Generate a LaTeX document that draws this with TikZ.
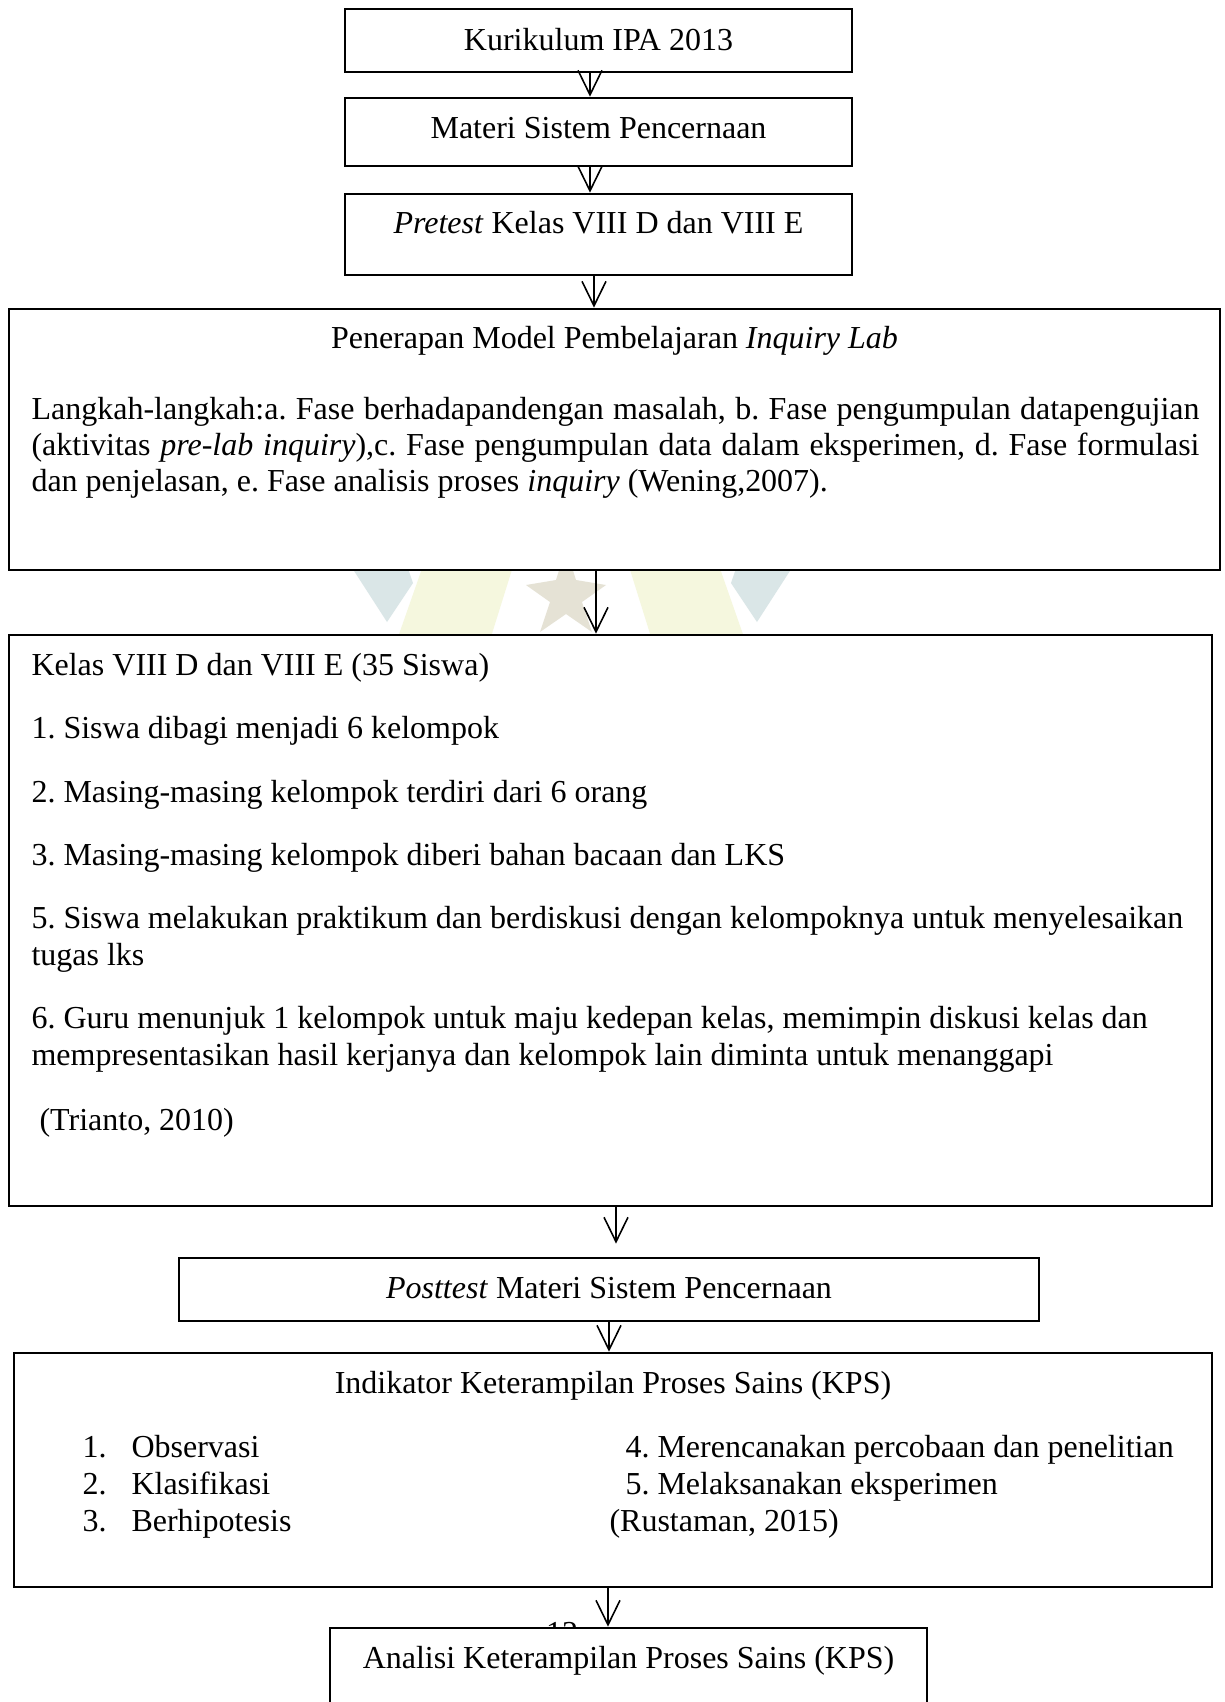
\documentclass[tikz,border=0pt]{standalone}
\usepackage{fontspec}
\setmainfont{Liberation Serif}
\usetikzlibrary{arrows.meta}
\frenchspacing
\def\U{0.375pt}
\tikzset{
  box/.style={draw=black, line width=1pt, fill=white, inner sep=0pt},
  txt/.style={inner sep=0pt, font=\fontsize{12pt}{13.875pt}\selectfont},
  arr/.style={line width=0.6pt, -{Straight Barb[length=9.2pt,width=9pt,line width=0.6pt]}},
  wm/.style={draw=none}
}
\begin{document}
\begin{tikzpicture}[x=0.375pt, y=-0.375pt]
\clip (0,0) rectangle (1225,1702);
\fill[white] (0,0) rectangle (1225,1702);

% faint watermark (only visible between boxes)
\fill[wm, fill={rgb,255:red,218;green,230;blue,231}] (347,560) -- (405,560) -- (413,583) -- (387,622) -- cycle;
\fill[wm, fill={rgb,255:red,245;green,247;blue,222}] (425,560) -- (515,560) -- (490,640) -- (397,640) -- cycle;
\fill[wm, fill={rgb,255:red,229;green,226;blue,213}]
  (566,548) -- (576,580) -- (606,585) -- (582,602) -- (592,632) -- (566,614) -- (540,632) -- (550,602) -- (526,585) -- (556,580) -- cycle;
\fill[wm, fill={rgb,255:red,245;green,247;blue,222}] (627,560) -- (717,560) -- (745,640) -- (652,640) -- cycle;
\fill[wm, fill={rgb,255:red,218;green,230;blue,231}] (739,560) -- (797,560) -- (757,622) -- (731,583) -- cycle;

% boxes
\node[box, minimum width=507*\U, minimum height=63*\U] (b1) at (598.5,40.5) {};
\node[box, minimum width=507*\U, minimum height=68*\U] (b2) at (598.5,132) {};
\node[box, minimum width=507*\U, minimum height=81*\U] (b3) at (598.5,234.5) {};
\node[box, minimum width=1211*\U, minimum height=261*\U] (inq) at (614.5,439.5) {};
\node[box, minimum width=1203*\U, minimum height=571*\U] (kelas) at (610.5,920.5) {};
\node[box, minimum width=860*\U, minimum height=63*\U] (post) at (609,1289.5) {};
\node[box, minimum width=1198*\U, minimum height=234*\U] (kps) at (613,1470) {};
\node[txt, anchor=base] (pg) at (562,1643) {12};
\node[box, minimum width=597*\U, minimum height=132*\U] (ana) at (628.5,1694) {};

% texts
\node[txt, anchor=base] (t1) at (598.5,50) {Kurikulum IPA 2013};
\node[txt, anchor=base] (t2) at (598.5,138) {Materi Sistem Pencernaan};
\node[txt, anchor=base] (t3) at (598.5,233) {\textit{Pretest} Kelas VIII D dan VIII E};

\node[txt, anchor=base] (inqt) at (614.5,348) {Penerapan Model Pembelajaran \textit{Inquiry Lab}};
\node[txt, anchor=base west] (inq1) at (31,419)
 {\makebox[438pt][s]{Langkah-langkah:a. Fase berhadapandengan masalah, b. Fase pengumpulan datapengujian}};
\node[txt, anchor=base west] (inq2) at (31,455)
 {\makebox[438pt][s]{(aktivitas \textit{pre-lab inquiry}),c. Fase pengumpulan data dalam eksperimen, d. Fase formulasi}};
\node[txt, anchor=base west] (inq3) at (31,491)
 {dan penjelasan, e. Fase analisis proses \textit{inquiry} (Wening,2007).};

\node[txt, anchor=base west] (k0) at (31,675) {Kelas VIII D dan VIII E (35 Siswa)};
\node[txt, anchor=base west] (k1) at (31,738) {1. Siswa dibagi menjadi 6 kelompok};
\node[txt, anchor=base west] (k2) at (31,802) {2. Masing-masing kelompok terdiri dari 6 orang};
\node[txt, anchor=base west] (k3) at (31,865) {3. Masing-masing kelompok diberi bahan bacaan dan LKS};
\node[txt, anchor=base west] (k5a) at (31,928) {5. Siswa melakukan praktikum dan berdiskusi dengan kelompoknya untuk menyelesaikan};
\node[txt, anchor=base west] (k5b) at (31,965) {tugas lks};
\node[txt, anchor=base west] (k6a) at (31,1028) {6. Guru menunjuk 1 kelompok untuk maju kedepan kelas, memimpin diskusi kelas dan};
\node[txt, anchor=base west] (k6b) at (31,1065) {mempresentasikan hasil kerjanya dan kelompok lain diminta untuk menanggapi};
\node[txt, anchor=base west] (k7) at (39,1130) {(Trianto, 2010)};

\node[txt, anchor=base] (postt) at (609,1298) {\textit{Posttest} Materi Sistem Pencernaan};

\node[txt, anchor=base] (kpst) at (613,1393) {Indikator Keterampilan Proses Sains (KPS)};
\node[txt, anchor=base west] (n1) at (82,1457) {1.};
\node[txt, anchor=base west] (i1) at (131,1457) {Observasi};
\node[txt, anchor=base west] (n2) at (82,1494) {2.};
\node[txt, anchor=base west] (i2) at (131,1494) {Klasifikasi};
\node[txt, anchor=base west] (n3) at (82,1531) {3.};
\node[txt, anchor=base west] (i3) at (131,1531) {Berhipotesis};
\node[txt, anchor=base west] (i4) at (625,1457) {4. Merencanakan percobaan dan penelitian};
\node[txt, anchor=base west] (i5) at (625,1494) {5. Melaksanakan eksperimen};
\node[txt, anchor=base west] (i6) at (609,1531) {(Rustaman, 2015)};

\node[txt, anchor=base] (anat) at (628.5,1668) {Analisi Keterampilan Proses Sains (KPS)};

% connectors
\draw[arr] (590,0 |- b1.south) -- (590,0 |- b2.north);
\draw[arr] (590,0 |- b2.south) -- (590,0 |- b3.north);
\draw[arr] (594,0 |- b3.south) -- (594,0 |- inq.north);
\draw[arr] (596,0 |- inq.south) -- (596,0 |- kelas.north);
\draw[arr, shorten >=4.9pt] (616,0 |- kelas.south) -- (616,0 |- post.north);
\draw[arr] (609,0 |- post.south) -- (609,0 |- kps.north);
\draw[arr] (608,0 |- kps.south) -- (608,0 |- ana.north);
\end{tikzpicture}
\end{document}
